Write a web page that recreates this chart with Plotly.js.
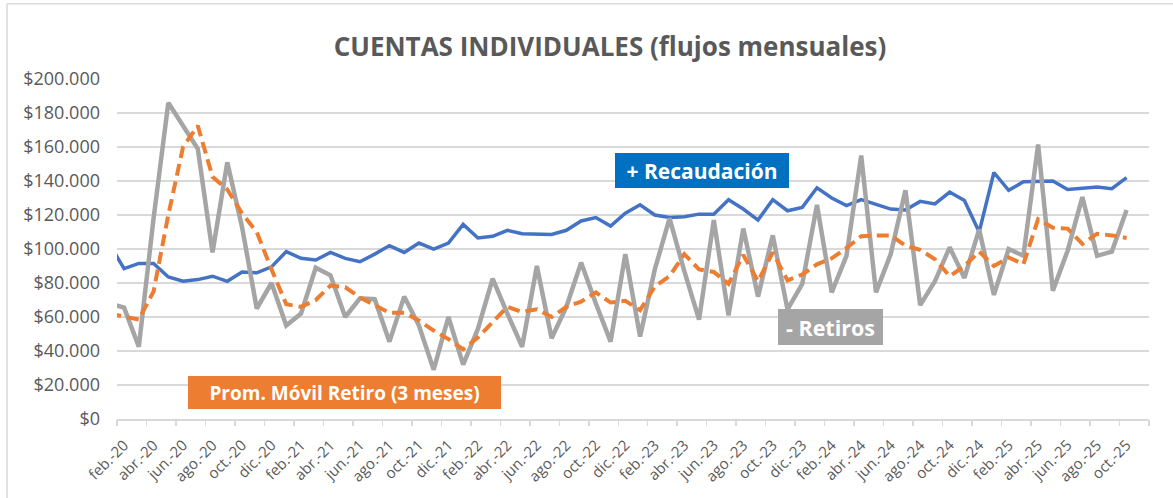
<!DOCTYPE html>
<html>
<head>
<meta charset="utf-8">
<script src="https://cdn.plot.ly/plotly-3.0.1.min.js"></script>
<style>
  html, body { margin: 0; padding: 0; background: #ffffff; }
  #chart { width: 1173px; height: 498px; }
</style>
</head>
<body>
<div id="chart"></div>
<script>
// Categorías mensuales (ene.-20 queda fuera del eje, como en el original)
const meses = [
  "ene.-20","feb.-20","mar.-20","abr.-20","may.-20","jun.-20","jul.-20","ago.-20","sep.-20","oct.-20","nov.-20","dic.-20",
  "ene.-21","feb.-21","mar.-21","abr.-21","may.-21","jun.-21","jul.-21","ago.-21","sep.-21","oct.-21","nov.-21","dic.-21",
  "ene.-22","feb.-22","mar.-22","abr.-22","may.-22","jun.-22","jul.-22","ago.-22","sep.-22","oct.-22","nov.-22","dic.-22",
  "ene.-23","feb.-23","mar.-23","abr.-23","may.-23","jun.-23","jul.-23","ago.-23","sep.-23","oct.-23","nov.-23","dic.-23",
  "ene.-24","feb.-24","mar.-24","abr.-24","may.-24","jun.-24","jul.-24","ago.-24","sep.-24","oct.-24","nov.-24","dic.-24",
  "ene.-25","feb.-25","mar.-25","abr.-25","may.-25","jun.-25","jul.-25","ago.-25","sep.-25","oct.-25"
];

// + Recaudación
const recaudacion = [
  103000,
  88500, 91500, 91500, 83500, 81000, 82000, 84000, 81000, 86500, 86000,
  89500, 98500, 94500, 93500, 98000, 94500, 92500, 97000, 102000, 98000,
  103500, 100000, 103500, 114500, 106500, 107500, 111000, 109000, 108500, 108500,
  111000, 116500, 118500, 113500, 121000, 126000, 120000, 118500, 119000, 120500,
  120500, 129000, 123500, 117000, 129000, 122500, 124500, 136000, 130000, 125500,
  129000, 126500, 123500, 123000, 128000, 126500, 133500, 128500, 110000, 145000,
  134500, 139500, 139500, 140000, 135000, 135500, 136500, 135500, 142000
];

// - Retiros
const retiros = [
  68000,
  65500, 42500, 118000, 186000, 172000, 159000, 98000, 151000, 113000, 65000,
  80000, 55000, 62000, 89000, 84500, 60000, 71000, 70500, 45500, 72000,
  55000, 29000, 60000, 32000, 53000, 82500, 62000, 42500, 90000, 47500,
  66000, 92000, 68000, 45500, 97000, 48500, 88000, 118000, 87000, 58500,
  117000, 61000, 112000, 72000, 108000, 64500, 79500, 126000, 74500, 96000,
  155000, 74500, 97000, 134500, 67000, 81000, 101000, 83000, 111500, 73000,
  100000, 96000, 161500, 75500, 99000, 130500, 96000, 98500, 123000
];

// Prom. Móvil Retiro (3 meses)
const promMovil = [
  62000,
  60500, 58500, 75000, 120000, 160000, 172500, 142500, 135000, 121000, 110000,
  88000, 67500, 66000, 70000, 78500, 77500, 71500, 67000, 62500, 62500,
  58000, 52000, 47000, 41000, 48000, 57000, 66000, 63000, 64500, 60000,
  66000, 69000, 74500, 68500, 69500, 64000, 78000, 84000, 97000, 88000,
  86500, 79500, 96500, 81000, 98000, 81500, 85000, 91000, 94500, 100500,
  107500, 108000, 108000, 102000, 99500, 94000, 84000, 90000, 98500, 90000,
  95000, 91000, 117500, 112500, 112000, 103000, 109000, 108000, 106500
];

// Etiquetas del eje X (cada dos meses)
const etiquetasX = [
  "feb.-20","abr.-20","jun.-20","ago.-20","oct.-20","dic.-20",
  "feb.-21","abr.-21","jun.-21","ago.-21","oct.-21","dic.-21",
  "feb.-22","abr.-22","jun.-22","ago.-22","oct.-22","dic.-22",
  "feb.-23","abr.-23","jun.-23","ago.-23","oct.-23","dic.-23",
  "feb.-24","abr.-24","jun.-24","ago.-24","oct.-24","dic.-24",
  "feb.-25","abr.-25","jun.-25","ago.-25","oct.-25"
];

// Eje Y
const ticksY = [0, 20000, 40000, 60000, 80000, 100000, 120000, 140000, 160000, 180000, 200000];
const etiquetasY = ["$0","$20.000","$40.000","$60.000","$80.000","$100.000","$120.000","$140.000","$160.000","$180.000","$200.000"];

// Posiciones de marcas del eje X (límites entre pares de meses)
const xMin = 0.52, xMax = 70.52;
const marcasX = [];
for (let v = xMin; v <= xMax + 1e-6; v += 2) marcasX.push(v);

const FONT = '"Open Sans", "Noto Sans", Roboto, sans-serif';
const GRID = '#d9d9d9';
const TXT = '#595959';

const traces = [
  { x: meses, y: recaudacion, type: 'scatter', mode: 'lines', name: '+ Recaudación',
    line: { color: '#4472C4', width: 3.5 }, hoverinfo: 'skip' },
  { x: meses, y: retiros, type: 'scatter', mode: 'lines', name: '- Retiros',
    line: { color: '#A5A5A5', width: 4.5 }, hoverinfo: 'skip' },
  { x: meses, y: promMovil, type: 'scatter', mode: 'lines', name: 'Prom. Móvil Retiro (3 meses)',
    line: { color: '#ED7D31', width: 4, dash: '12px,6px' }, hoverinfo: 'skip' },
  { x: [], y: [], xaxis: 'x2', type: 'scatter', mode: 'lines', showlegend: false, hoverinfo: 'skip' }
];

const PL = 117, PR = 1149, PT = 78.5, PB = 419.3;
const PW = PR - PL, PH = PB - PT;
const px = v => (v - PL) / PW;
const py = v => (PB - v) / PH;

const layout = {
  width: 1173, height: 498,
  margin: { l: PL, r: 1173 - PR, t: PT, b: 498 - PB, pad: 0 },
  paper_bgcolor: '#ffffff', plot_bgcolor: '#ffffff',
  showlegend: false,
  font: { family: FONT, color: TXT },
  title: {
    text: '<b>CUENTAS INDIVIDUALES (flujos mensuales)</b>',
    font: { family: FONT, size: 26, color: TXT },
    x: 610 / 1173, xanchor: 'center', xref: 'container',
    y: 1 - 47 / 498, yanchor: 'middle', yref: 'container'
  },
  xaxis: {
    type: 'category', categoryorder: 'array', categoryarray: meses,
    range: [xMin, xMax], fixedrange: true,
    tickmode: 'array', tickvals: etiquetasX, ticktext: etiquetasX,
    tickangle: -45, ticks: '', ticklabelstandoff: 10,
    tickfont: { family: FONT, size: 15, color: TXT },
    showgrid: false, zeroline: false,
    showline: true, linecolor: GRID, linewidth: 1.5
  },
  xaxis2: {
    overlaying: 'x', anchor: 'y', side: 'bottom', type: 'linear',
    range: [xMin, xMax], fixedrange: true,
    tickmode: 'array', tickvals: marcasX, showticklabels: false,
    ticks: 'outside', ticklen: 6, tickwidth: 1.5, tickcolor: GRID,
    showgrid: false, zeroline: false, showline: false
  },
  yaxis: {
    range: [0, 200000], fixedrange: true,
    tickmode: 'array', tickvals: ticksY, ticktext: etiquetasY,
    ticks: '', ticklabelstandoff: 16,
    tickfont: { family: FONT, size: 18, color: TXT },
    showgrid: true, gridcolor: GRID, gridwidth: 1.5,
    zeroline: false, showline: false
  },
  shapes: [
    { type: 'line', xref: 'paper', yref: 'paper', x0: px(7), x1: px(7), y0: py(3), y1: py(520),
      line: { color: GRID, width: 1.5 } },
    { type: 'line', xref: 'paper', yref: 'paper', x0: px(7), x1: px(1200), y0: py(3), y1: py(3),
      line: { color: GRID, width: 1.5 } }
  ],
  annotations: [
    { xref: 'paper', yref: 'paper', x: px(702), y: py(170.5), xanchor: 'center', yanchor: 'middle',
      text: '<b>+ Recaudación</b>', showarrow: false, bgcolor: '#0070C0',
      width: 174, height: 35, borderpad: 0, borderwidth: 0,
      font: { family: FONT, size: 21, color: '#ffffff' } },
    { xref: 'paper', yref: 'paper', x: px(830.5), y: py(327), xanchor: 'center', yanchor: 'middle',
      text: '<b>- Retiros</b>', showarrow: false, bgcolor: '#A5A5A5',
      width: 105, height: 36, borderpad: 0, borderwidth: 0,
      font: { family: FONT, size: 21.5, color: '#ffffff' } },
    { xref: 'paper', yref: 'paper', x: px(344.5), y: py(392.5), xanchor: 'center', yanchor: 'middle',
      text: '<b>Prom. Móvil Retiro (3 meses)</b>', showarrow: false, bgcolor: '#ED7D31',
      width: 313, height: 33, borderpad: 0, borderwidth: 0,
      font: { family: FONT, size: 19, color: '#ffffff' } }
  ]
};

Plotly.newPlot('chart', traces, layout, { staticPlot: true, displayModeBar: false });
</script>
</body>
</html>
